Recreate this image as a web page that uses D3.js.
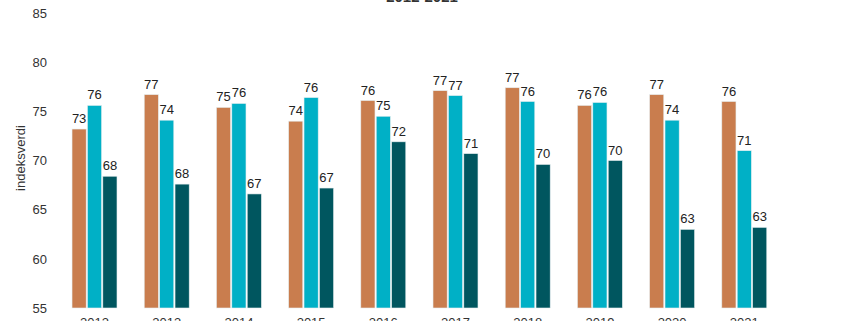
<!DOCTYPE html>
<html>
<head>
<meta charset="utf-8">
<script src="https://cdn.jsdelivr.net/npm/d3@7"></script>
<style>
    body { margin: 0; background: #fff; }
    svg { display: block; font-family: "Liberation Sans", Arial, sans-serif; }
</style>
</head>
<body>
<svg id="chart" width="845" height="321"></svg>
<script>
const years = ["2012", "2013", "2014", "2015", "2016", "2017", "2018", "2019", "2020", "2021"];
const seriesNames = ["a", "b", "c"];
const seriesA = [73.2, 76.7, 75.4, 74.0, 76.1, 77.1, 77.4, 75.6, 76.7, 76.0];
const seriesB = [75.6, 74.1, 75.8, 76.4, 74.5, 76.6, 76.0, 75.9, 74.1, 71.0];
const seriesC = [68.4, 67.6, 66.6, 67.2, 71.9, 70.7, 69.6, 70.0, 63.0, 63.2];
const yTicks = [55, 60, 65, 70, 75, 80, 85];
const colors = ["#c97d4e", "#00b0c6", "#00565f"];

const svg = d3.select("#chart");

const x = d3.scaleBand()
    .domain(years)
    .range([44.8, 794])
    .padding(0.377);

const xInner = d3.scaleBand()
    .domain(seriesNames)
    .range([0, x.bandwidth()])
    .paddingInner(0.08);

const y = d3.scaleLinear()
    .domain([55, 85])
    .range([308, 13]);

// y axis, labels only
const yAxis = svg.append("g")
    .attr("transform", "translate(50,0)")
    .call(d3.axisLeft(y).tickValues(yTicks).tickSize(0).tickPadding(3));
yAxis.select(".domain").remove();
yAxis.selectAll("text")
    .attr("font-size", 13)
    .attr("fill", "#333")
    .style("font-family", "Liberation Sans, Arial, sans-serif");

svg.append("text")
    .attr("transform", "translate(25,158) rotate(-90)")
    .attr("text-anchor", "middle")
    .attr("font-size", 13)
    .attr("fill", "#333")
    .text("indeksverdi");

// title, mostly outside the top edge
svg.append("text")
    .attr("x", 422)
    .attr("y", 2)
    .attr("text-anchor", "middle")
    .attr("font-size", 15)
    .attr("font-weight", "bold")
    .attr("fill", "#333")
    .text("2012-2021");

// x axis labels
const xAxis = svg.append("g")
    .attr("transform", "translate(0,308)")
    .call(d3.axisBottom(x).tickSize(0).tickPadding(10));
xAxis.select(".domain").remove();
xAxis.selectAll("text")
    .attr("font-size", 13)
    .attr("fill", "#333")
    .style("font-family", "Liberation Sans, Arial, sans-serif");

const rows = years.map((yr, i) => ({
    year: yr,
    values: [seriesA[i], seriesB[i], seriesC[i]].map((v, j) => ({ key: seriesNames[j], value: v, color: colors[j] }))
}));

const group = svg.append("g").selectAll("g")
    .data(rows)
    .enter().append("g")
    .attr("transform", d => `translate(${x(d.year)},0)`);

group.selectAll("rect")
    .data(d => d.values)
    .enter().append("rect")
    .attr("x", d => xInner(d.key))
    .attr("y", d => y(d.value))
    .attr("width", xInner.bandwidth())
    .attr("height", d => y(55) - y(d.value))
    .attr("fill", d => d.color)
    .attr("stroke", "#e6eef0")
    .attr("stroke-width", 0.6);

group.selectAll("text")
    .data(d => d.values)
    .enter().append("text")
    .attr("x", d => xInner(d.key) + xInner.bandwidth() / 2)
    .attr("y", d => y(d.value) - 6)
    .attr("text-anchor", "middle")
    .attr("font-size", 13)
    .attr("fill", "#222")
    .text(d => Math.round(d.value));
</script>
</body>
</html>
